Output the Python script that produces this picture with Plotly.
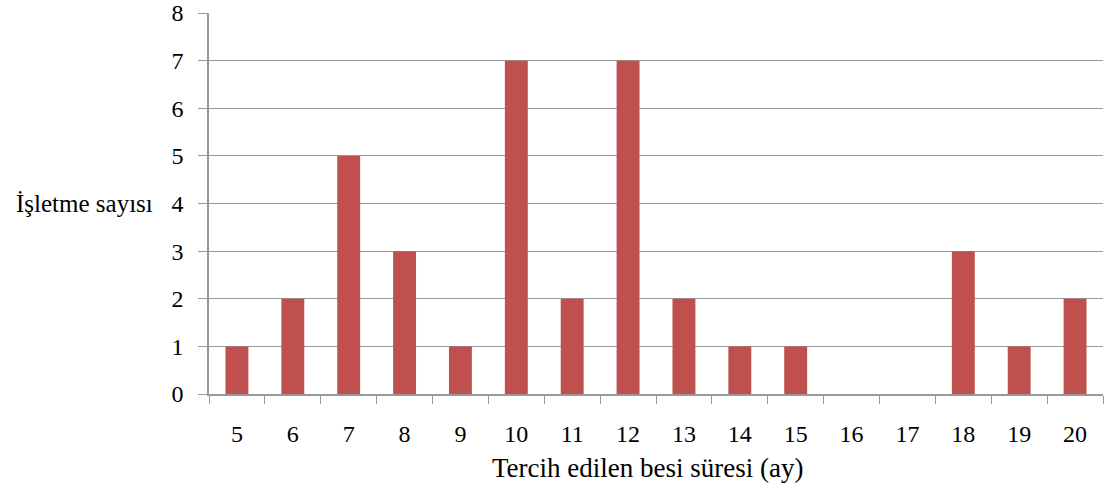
import plotly.graph_objects as go

categories = ["5", "6", "7", "8", "9", "10", "11", "12", "13", "14", "15", "16", "17", "18", "19", "20"]
counts = [1, 2, 5, 3, 1, 7, 2, 7, 2, 1, 1, 0, 0, 3, 1, 2]
y_ticks = [0, 1, 2, 3, 4, 5, 6, 7, 8]

FONT = "Liberation Serif, Times New Roman, serif"

fig = go.Figure()
fig.add_trace(go.Bar(x=categories, y=counts, marker=dict(color="#C0504D", line=dict(width=0)),
                     width=0.41))

fig.update_layout(
    width=1111, height=488,
    margin=dict(l=209, r=8, t=13, b=94, autoexpand=False),
    plot_bgcolor="white", paper_bgcolor="white",
    showlegend=False,
    font=dict(family=FONT, size=24, color="black"),
    bargap=0.59,
)
fig.update_xaxes(
    type="category", tickson="boundaries", ticks="outside", ticklen=8, tickcolor="#999999",
    showline=True, linecolor="#999999", linewidth=1.5, showgrid=False, automargin=False,
    tickfont=dict(family=FONT, size=24), ticklabelstandoff=17,
)
fig.update_yaxes(
    range=[0, 8], tickvals=y_ticks, ticks="outside", ticklen=9, tickcolor="#999999",
    showline=True, linecolor="#999999", linewidth=1.5, automargin=False,
    showgrid=True, gridcolor="#999999", gridwidth=1.2, zeroline=False,
    tickfont=dict(family=FONT, size=24), ticklabelstandoff=10,
)
fig.add_annotation(text="İşletme sayısı", xref="paper", yref="paper", x=-0.0604, y=0.501,
                   xanchor="right", yanchor="middle", showarrow=False,
                   font=dict(family=FONT, size=25))
fig.add_annotation(text="Tercih edilen besi süresi (ay)", xref="paper", yref="paper", x=0.491, y=-0.194,
                   xanchor="center", yanchor="middle", showarrow=False,
                   font=dict(family=FONT, size=27))

fig.write_html("out.html")
